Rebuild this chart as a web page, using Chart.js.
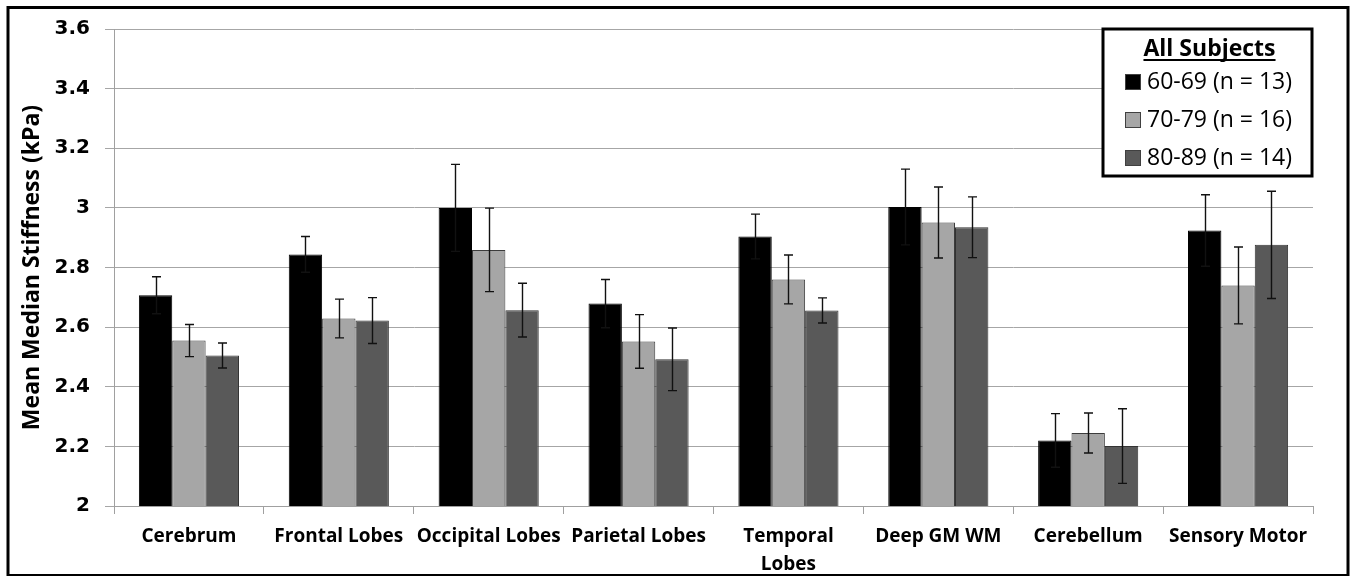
<!DOCTYPE html>
<html>
<head>
<meta charset="utf-8">
<script src="https://cdn.jsdelivr.net/npm/chart.js@4.4.0/dist/chart.umd.min.js"></script>
<style>
  html, body { margin: 0; padding: 0; background: #fff; }
  #wrap { width: 1352px; height: 576px; position: relative; }
</style>
</head>
<body>
<div id="wrap"><canvas id="stiffChart"></canvas></div>
<script>
// --- DATA ---
const regions = ["Cerebrum", "Frontal Lobes", "Occipital Lobes", "Parietal Lobes",
    ["Temporal", "Lobes"], "Deep GM WM", "Cerebellum", "Sensory Motor"];
const groupLabels = ["60-69 (n = 13)", "70-79 (n = 16)", "80-89 (n = 14)"];

const age60 = [2.707, 2.844, 3.000, 2.679, 2.904, 3.003, 2.220, 2.924];
const age70 = [2.555, 2.629, 2.859, 2.552, 2.760, 2.951, 2.245, 2.740];
const age80 = [2.505, 2.622, 2.657, 2.492, 2.656, 2.935, 2.201, 2.876];

const err60 = [0.062, 0.060, 0.146, 0.081, 0.075, 0.127, 0.090, 0.120];
const err70 = [0.054, 0.065, 0.140, 0.090, 0.082, 0.119, 0.067, 0.129];
const err80 = [0.042, 0.077, 0.090, 0.105, 0.042, 0.102, 0.125, 0.180];

const yMin = 2;
const yMax = 3.6;
const yStep = 0.2;

const legendTitle = "All Subjects";
const yTitle = "Mean Median Stiffness (kPa)";

const FONT = "'Open Sans', 'DejaVu Sans', sans-serif";
const TICK_FONT = "'DejaVu Sans', sans-serif";

// error bars drawn from each bar's own pixel position + the y scale
const errorBarPlugin = {
    id: "errorBars",
    afterDatasetsDraw(chart) {
        const ctx = chart.ctx;
        const yScale = chart.scales.y;
        ctx.save();
        ctx.strokeStyle = "#111";
        ctx.lineWidth = 1.4;
        chart.data.datasets.forEach((ds, di) => {
            const meta = chart.getDatasetMeta(di);
            meta.data.forEach((bar, i) => {
                const v = ds.data[i];
                const e = ds.errors[i];
                const yTop = yScale.getPixelForValue(v + e);
                const yBot = yScale.getPixelForValue(v - e);
                const x = Math.round(bar.x) + 0.5;
                ctx.beginPath();
                ctx.moveTo(x, yTop);
                ctx.lineTo(x, yBot);
                ctx.moveTo(x - 4.5, yTop);
                ctx.lineTo(x + 4.5, yTop);
                ctx.moveTo(x - 4.5, yBot);
                ctx.lineTo(x + 4.5, yBot);
                ctx.stroke();
            });
        });
        ctx.restore();
    }
};

// boxed legend inside the plot + outer frame
const boxLegendPlugin = {
    id: "boxLegend",
    afterDraw(chart) {
        const ctx = chart.ctx;
        const area = chart.chartArea;
        ctx.save();

        const boxW = 209, boxH = 147;
        const bx = area.right - boxW - 1;
        const by = area.top;
        ctx.fillStyle = "#fff";
        ctx.fillRect(bx, by, boxW, boxH);
        ctx.lineWidth = 3;
        ctx.strokeStyle = "#000";
        ctx.strokeRect(bx, by, boxW, boxH);

        ctx.fillStyle = "#000";
        ctx.font = "bold 23px " + FONT;
        ctx.textAlign = "center";
        ctx.textBaseline = "alphabetic";
        const tx = bx + boxW / 2 + 2;
        ctx.fillText(legendTitle, tx, by + 27);
        const tw = ctx.measureText(legendTitle).width;
        ctx.lineWidth = 2;
        ctx.beginPath();
        ctx.moveTo(tx - tw / 2, by + 31);
        ctx.lineTo(tx + tw / 2, by + 31);
        ctx.stroke();

        ctx.font = "23px " + FONT;
        ctx.textAlign = "left";
        ctx.textBaseline = "middle";
        chart.data.datasets.forEach((ds, i) => {
            const cy = by + 53 + i * 38;
            ctx.fillStyle = ds.backgroundColor;
            ctx.fillRect(bx + 22, cy - 8, 16, 16);
            ctx.lineWidth = 1;
            ctx.strokeStyle = "#404040";
            ctx.strokeRect(bx + 22.5, cy - 7.5, 15, 15);
            ctx.fillStyle = "#000";
            ctx.fillText(ds.label, bx + 44, cy);
        });

        // outer frame
        ctx.lineWidth = 3;
        ctx.strokeStyle = "#000";
        ctx.strokeRect(8, 7.5, 1340, 568);
        ctx.restore();
    }
};

const ctxBar = document.getElementById("stiffChart").getContext("2d");
const stiffChart = new Chart(ctxBar, {
    type: "bar",
    data: {
        labels: regions,
        datasets: [
            { label: groupLabels[0], data: age60, errors: err60,
              backgroundColor: "#000000", borderColor: "#000000", borderWidth: 1 },
            { label: groupLabels[1], data: age70, errors: err70,
              backgroundColor: "#a6a6a6", borderColor: "#3c3c3c", borderWidth: 1 },
            { label: groupLabels[2], data: age80, errors: err80,
              backgroundColor: "#595959", borderColor: "#333333", borderWidth: 1 }
        ]
    },
    options: {
        responsive: true,
        maintainAspectRatio: false,
        animation: false,
        layout: { padding: { left: 0, top: 29, right: 39, bottom: 0 } },
        datasets: { bar: { categoryPercentage: 0.668, barPercentage: 1.0 } },
        plugins: {
            legend: { display: false },
            tooltip: { enabled: false }
        },
        scales: {
            x: {
                afterFit: (scale) => { scale.height = 70; },
                grid: {
                    offset: true,
                    drawOnChartArea: false,
                    drawTicks: true,
                    tickLength: 8,
                    color: "#a0a0a0"
                },
                border: { color: "#a0a0a0" },
                ticks: {
                    color: "#000",
                    padding: 9,
                    maxRotation: 0,
                    autoSkip: false,
                    font: { family: FONT, size: 19, weight: "bold", lineHeight: 1.45 }
                }
            },
            y: {
                min: yMin,
                max: yMax,
                afterFit: (scale) => { scale.width = 114; },
                grid: { color: "#a6a6a6", tickLength: 9 },
                border: { color: "#a0a0a0" },
                ticks: {
                    stepSize: yStep,
                    color: "#000",
                    padding: 15,
                    font: { family: TICK_FONT, size: 20, weight: "bold" },
                    callback: (v) => String(+v.toFixed(1))
                },
                title: {
                    display: true,
                    text: yTitle,
                    color: "#000",
                    padding: { top: 19, bottom: 0 },
                    font: { family: FONT, size: 23, weight: "bold", lineHeight: 1.2 }
                }
            }
        }
    },
    plugins: [errorBarPlugin, boxLegendPlugin]
});
</script>
</body>
</html>
